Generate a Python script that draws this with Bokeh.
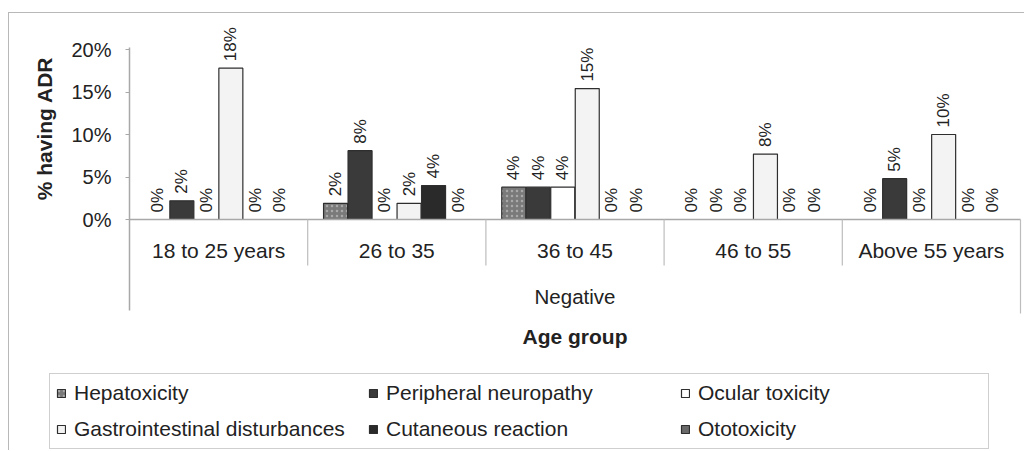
import numpy as np
from bokeh.plotting import figure
from bokeh.models import (Range1d, ColumnDataSource, FixedTicker, PrintfTickFormatter,
                          Legend, LegendItem, Label)
from bokeh.core.properties import value
from bokeh.embed import file_html
from bokeh.resources import INLINE

# ---------------- data ----------------
categories = ["18 to 25 years", "26 to 35", "36 to 45", "46 to 55", "Above 55 years"]
group_label = "Negative"
x_title = "Age group"
y_title = "% having ADR"
series_names = ["Hepatoxicity", "Peripheral neuropathy", "Ocular toxicity",
                "Gastrointestinal disturbances", "Cutaneous reaction", "Ototoxicity"]
hepatoxicity = [0, 1.9, 3.8, 0, 0]
peripheral_neuropathy = [2.2, 8.1, 3.8, 0, 4.8]
ocular_toxicity = [0, 0, 3.8, 0, 0]
gastrointestinal = [17.8, 1.9, 15.4, 7.7, 10.0]
cutaneous_reaction = [0, 4.0, 0, 0, 0]
ototoxicity = [0, 0, 0, 0, 0]
y_ticks = [0, 5, 10, 15, 20]

series_values = [hepatoxicity, peripheral_neuropathy, ocular_toxicity,
                 gastrointestinal, cutaneous_reaction, ototoxicity]

# ---------------- styles / layout ----------------
FONT = "Liberation Sans"
TXT = "#222222"
fills = ["#7a7a7a", "#3a3a3a", "#ffffff", "#f3f3f3", "#2a2a2a", "#6a6a6a"]
AXIS_GREY = "#a8a8a8"
SEP_GREY = "#bdbdbd"

ORIGIN_X, ORIGIN_Y = 9, 13          # page position of figure content
PAGE_R, PAGE_B = 1025, 451
AXIS_X, PLOT_R = 129, 1020          # y axis and right end of category axis (page px)
ZERO_PX = 219
PX_PER_UNIT = 8.5
W, H = PAGE_R - ORIGIN_X, PAGE_B - ORIGIN_Y
N = len(categories)
CAT_PX = (PLOT_R - AXIS_X) / N
SLOT = 24.5 / CAT_PX
BAR_W = 24.0 / CAT_PX


def y_at(px):
    return (ZERO_PX - px) / PX_PER_UNIT


def x_at(px):
    return (px - AXIS_X) / CAT_PX


p = figure(width=W, height=H, output_backend="svg", toolbar_location=None,
           x_range=Range1d(x_at(ORIGIN_X), x_at(PAGE_R)),
           y_range=Range1d(y_at(PAGE_B), y_at(ORIGIN_Y)),
           x_axis_location=None, min_border=0,
           styles={"margin-left": "8px", "margin-top": "12px",
                   "border-top": "1px solid #b8b8b8", "border-left": "1px solid #b8b8b8"})
p.outline_line_color = None
p.grid.visible = False
p.background_fill_color = "white"
p.border_fill_color = "white"

# y axis, placed at x = 0 (left edge of the category axis)
ax = p.yaxis[0]
ax.fixed_location = 0
ax.bounds = (y_at(310), y_at(47))
ax.ticker = FixedTicker(ticks=y_ticks)
ax.formatter = PrintfTickFormatter(format="%d%%")
ax.axis_line_color = AXIS_GREY
ax.axis_line_width = 1.5
ax.major_tick_in = 0
ax.major_tick_out = 4
ax.major_tick_line_color = AXIS_GREY
ax.minor_tick_line_color = None
ax.major_label_text_font = FONT
ax.major_label_text_font_size = "20px"
ax.major_label_text_color = TXT
ax.major_label_standoff = 14

cat_idx = np.arange(N)
items = []
for j, (name, vals) in enumerate(zip(series_names, series_values)):
    xs = cat_idx + 0.5 + (j - 2.5) * SLOT
    src = ColumnDataSource(dict(x=xs, top=vals,
                                lab=[f"{round(v):.0f}%" for v in vals]))
    r = p.vbar(x="x", top="top", bottom=0, width=BAR_W, source=src,
               fill_color=fills[j], line_color="#2e2e2e", line_width=1.2)
    if j == 0:
        r.glyph.hatch_pattern = "."
        r.glyph.hatch_color = "#d8d8d8"
        r.glyph.hatch_scale = 5
        r.glyph.hatch_alpha = 0.5
    p.text(x="x", y="top", text="lab", source=src, angle=np.pi / 2,
           text_align="left", text_baseline="middle", y_offset=-7,
           text_font=value(FONT), text_font_size="17px", text_color=TXT)
    items.append(LegendItem(label=name, renderers=[r]))

# category axis lines (drawn over zero-height bars)
p.segment(x0=[0], y0=[0], x1=[N], y1=[0], line_color=AXIS_GREY, line_width=1.5)
p.segment(x0=list(range(1, N)), y0=[0] * (N - 1), x1=list(range(1, N)), y1=[y_at(265)] * (N - 1),
          line_color=SEP_GREY, line_width=1.2)
p.segment(x0=[N], y0=[0], x1=[N], y1=[y_at(313)], line_color=SEP_GREY, line_width=1.2)

# category labels
p.text(x=cat_idx + 0.5, y=[0] * N, text=categories, y_offset=250 - ZERO_PX,
       text_align="center", text_baseline="middle",
       text_font=value(FONT), text_font_size="21px", text_color=TXT)
p.text(x=[N / 2], y=[0], text=[group_label], y_offset=296 - ZERO_PX,
       text_align="center", text_baseline="middle",
       text_font=value(FONT), text_font_size="20.5px", text_color=TXT)
p.text(x=[N / 2], y=[0], text=[x_title], y_offset=336 - ZERO_PX,
       text_align="center", text_baseline="middle", text_font_style="bold",
       text_font=value(FONT), text_font_size="21px", text_color=TXT)

# y title
p.add_layout(Label(x=x_at(44), y=y_at(128), text=y_title, angle=np.pi / 2,
                   text_align="center", text_baseline="middle",
                   text_font=FONT, text_font_size="21px", text_font_style="bold",
                   text_color=TXT))

legend = Legend(items=items, location=(49 - ORIGIN_X, PAGE_B - 449),
                orientation="horizontal", ncols=3,
                border_line_color="#a0a0a0", border_line_width=1,
                background_fill_color="white", background_fill_alpha=1,
                label_text_font=FONT, label_text_font_size="21px", label_text_color=TXT,
                glyph_width=10, glyph_height=10, label_standoff=8,
                label_width=284, label_height=26, spacing=10, padding=6, margin=0)
p.add_layout(legend, "center")

open("out.html", "w").write(file_html(p, INLINE))
